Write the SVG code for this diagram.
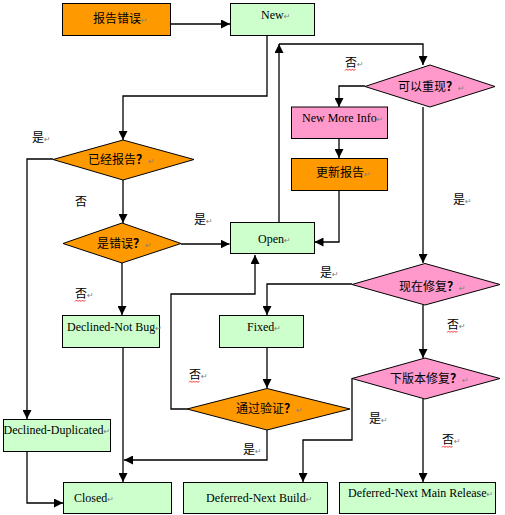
<svg xmlns="http://www.w3.org/2000/svg" width="505" height="515" viewBox="0 0 505 515">
<defs>
<marker id="arr" viewBox="0 0 10 10" refX="10" refY="5" markerWidth="9" markerHeight="9" markerUnits="userSpaceOnUse" orient="auto">
<path d="M0,0 L10,5 L0,10 z" fill="#000"/>
</marker>
<style>
.o{fill:#FF9900;stroke:#000;stroke-width:1}
.g{fill:#CCFFCC;stroke:#000;stroke-width:1}
.p{fill:#FF99CC;stroke:#000;stroke-width:1}
.c{fill:none;stroke:#000;stroke-width:1.3;marker-end:url(#arr)}
.zh{font-family:"Noto Sans CJK SC","Noto Sans CJK JP",sans-serif;font-size:12px;fill:#000}
.en{font-family:"Liberation Serif",serif;font-size:12px;fill:#000}
.q{font-weight:700}
.rm{font-family:"DejaVu Sans",sans-serif;font-size:8px;font-weight:400;fill:#808080}
.sp{fill:none;stroke:#FF0000;stroke-width:0.8}
</style>
</defs>
<rect width="505" height="515" fill="#fff"/>
<g id="connectors">
<path class="c" d="M171,24 H230"/>
<path class="c" d="M267,35 V96 H123 V140"/>
<path class="c" d="M53,159 H27 V419"/>
<path class="c" d="M123,180 V223"/>
<path class="c" d="M181,244 H229.5"/>
<path class="c" d="M122,263 V315"/>
<path class="c" d="M279,222 V44"/>
<path class="c" d="M279,44 H423 V65"/>
<path class="c" d="M365,86 H339 V107"/>
<path class="c" d="M339,138 V158"/>
<path class="c" d="M339,190 V242 H314.5"/>
<path class="c" d="M423,107 V263"/>
<path class="c" d="M352,284 H267 V315"/>
<path class="c" d="M267,347 V388"/>
<path class="c" d="M187,409 H171 V294 H255 V255"/>
<path class="c" d="M267,430 V460 H124"/>
<path class="c" d="M123,347 V482"/>
<path class="c" d="M27,451 V503 H63"/>
<path class="c" d="M423,305 V358"/>
<path class="c" d="M352,378 V440 H303 V482"/>
<path class="c" d="M423,399 V482"/>
</g>
<g id="n-report"><rect class="o" x="62.5" y="3.5" width="108" height="32"/><text class="zh" x="93" y="23">报告错误<tspan class="rm">↵</tspan></text></g>
<g id="n-new"><rect class="g" x="230.5" y="3.5" width="84" height="32"/><text class="en" x="261" y="19">New<tspan class="rm">↵</tspan></text></g>
<g id="n-reported"><polygon class="o" points="123,140 194,159.5 123,180 53,159.5"/><text class="zh" x="88" y="164">已经报告<tspan class="q">？</tspan><tspan class="rm">↵</tspan></text></g>
<g id="n-isbug"><polygon class="o" points="122,223 181,243.5 122,263 63,243.5"/><text class="zh" x="97" y="248">是错误<tspan class="q">？</tspan><tspan class="rm">↵</tspan></text></g>
<g id="n-open"><rect class="g" x="230.5" y="222.5" width="84" height="31"/><text class="en" x="258" y="243">Open<tspan class="rm">↵</tspan></text></g>
<g id="n-repro"><polygon class="p" points="430,65 495,86.5 430,107 365,86.5"/><text class="zh" x="398" y="91">可以重现<tspan class="q">？</tspan><tspan class="rm">↵</tspan></text></g>
<g id="n-moreinfo"><rect class="p" x="291.5" y="107" width="96" height="31.5"/><text class="en" x="302" y="122">New More Info<tspan class="rm">↵</tspan></text></g>
<g id="n-update"><rect class="o" x="291.5" y="158.5" width="96" height="32"/><text class="zh" x="316" y="177">更新报告<tspan class="rm">↵</tspan></text></g>
<g id="n-fixnow"><polygon class="p" points="425,263.5 500,284.5 425,305 352,284.5"/><text class="zh" x="399" y="291">现在修复<tspan class="q">？</tspan><tspan class="rm">↵</tspan></text></g>
<g id="n-fixed"><rect class="g" x="219.5" y="315.5" width="84" height="32"/><text class="en" x="247" y="331">Fixed<tspan class="rm">↵</tspan></text></g>
<g id="n-verify"><polygon class="o" points="267,388.5 350,409 267,430 187,409"/><text class="zh" x="236" y="413">通过验证<tspan class="q">？</tspan><tspan class="rm">↵</tspan></text></g>
<g id="n-nextfix"><polygon class="p" points="425,358 500,378.5 425,399 352,378.5"/><text class="zh" x="390" y="383">下版本修复<tspan class="q">？</tspan><tspan class="rm">↵</tspan></text></g>
<g id="n-notbug"><rect class="g" x="62.5" y="315.5" width="97" height="32"/><text class="en" x="67" y="331">Declined-Not Bug<tspan class="rm">↵</tspan></text></g>
<g id="n-dup"><rect class="g" x="3.5" y="419.5" width="107" height="32"/><text class="en" x="3.5" y="434">Declined-Duplicated<tspan class="rm">↵</tspan></text></g>
<g id="n-closed"><rect class="g" x="63.5" y="482.5" width="108" height="31"/><text class="en" x="74" y="502">Closed<tspan class="rm">↵</tspan></text></g>
<g id="n-nextbuild"><rect class="g" x="183.5" y="482.5" width="144" height="31"/><text class="en" x="206" y="502">Deferred-Next Build<tspan class="rm">↵</tspan></text></g>
<g id="n-nextmain"><rect class="g" x="339.5" y="482.5" width="156" height="31"/><text class="en" x="348" y="497">Deferred-Next Main Release<tspan class="rm">↵</tspan></text></g>
<g id="labels">
<text class="zh" x="32" y="142">是<tspan class="rm">↵</tspan></text>
<text class="zh" x="75" y="206">否</text>
<text class="zh" x="194" y="224">是<tspan class="rm">↵</tspan></text>
<text class="zh" x="345" y="67">否<tspan class="rm">↵</tspan></text>
<text class="zh" x="453" y="204">是<tspan class="rm">↵</tspan></text>
<text class="zh" x="320" y="277">是<tspan class="rm">↵</tspan></text>
<text class="zh" x="75" y="298">否<tspan class="rm">↵</tspan></text>
<text class="zh" x="447" y="329">否<tspan class="rm">↵</tspan></text>
<text class="zh" x="189" y="379">否<tspan class="rm">↵</tspan></text>
<text class="zh" x="369" y="423">是<tspan class="rm">↵</tspan></text>
<text class="zh" x="243" y="454">是<tspan class="rm">↵</tspan></text>
<text class="zh" x="442" y="444">否<tspan class="rm">↵</tspan></text>
</g>
<g id="spellcheck">
<path class="sp" d="M345,70.5 l1.5,-1.5 l1.5,1.5 l1.5,-1.5 l1.5,1.5 l1.5,-1.5 l1.5,1.5 l1.5,-1.5"/>
<path class="sp" d="M75,301.5 l1.5,-1.5 l1.5,1.5 l1.5,-1.5 l1.5,1.5 l1.5,-1.5 l1.5,1.5 l1.5,-1.5"/>
<path class="sp" d="M447,332.5 l1.5,-1.5 l1.5,1.5 l1.5,-1.5 l1.5,1.5 l1.5,-1.5 l1.5,1.5 l1.5,-1.5"/>
<path class="sp" d="M189,382.5 l1.5,-1.5 l1.5,1.5 l1.5,-1.5 l1.5,1.5 l1.5,-1.5 l1.5,1.5 l1.5,-1.5"/>
<path class="sp" d="M442,447.5 l1.5,-1.5 l1.5,1.5 l1.5,-1.5 l1.5,1.5 l1.5,-1.5 l1.5,1.5 l1.5,-1.5"/>
</g>
</svg>
